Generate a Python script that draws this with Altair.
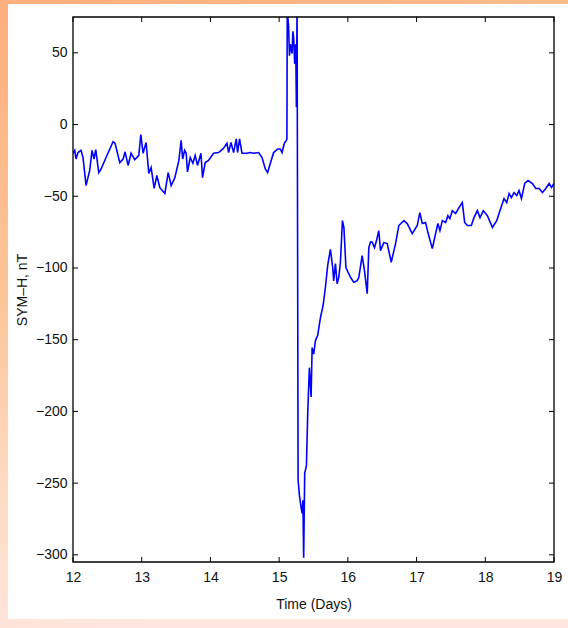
import altair as alt
import pandas as pd

# Time (days) and SYM-H (nT)
days = [
    12.000, 12.025, 12.044, 12.073, 12.117, 12.146, 12.190, 12.243, 12.277, 12.306,
    12.331, 12.375, 12.408, 12.481, 12.583, 12.612, 12.681, 12.729, 12.758, 12.802,
    12.845, 12.899, 12.958, 12.987, 13.020, 13.064, 13.103, 13.137, 13.181, 13.220,
    13.264, 13.337, 13.385, 13.429, 13.482, 13.541, 13.574, 13.596, 13.625, 13.647,
    13.666, 13.706, 13.745, 13.778, 13.812, 13.862, 13.885, 13.924, 13.972, 14.045,
    14.118, 14.182, 14.241, 14.264, 14.299, 14.337, 14.376, 14.395, 14.424, 14.459,
    14.532, 14.580, 14.628, 14.701, 14.751, 14.799, 14.832, 14.872, 14.920, 14.978,
    15.017, 15.042, 15.076, 15.105, 15.113, 15.118, 15.138, 15.150, 15.163, 15.188,
    15.200, 15.211, 15.226, 15.241, 15.251, 15.261, 15.276, 15.294, 15.319, 15.334,
    15.346, 15.357, 15.372, 15.397, 15.416, 15.440, 15.465, 15.480, 15.503, 15.528,
    15.561, 15.601, 15.640, 15.673, 15.707, 15.746, 15.780, 15.794, 15.819, 15.844,
    15.867, 15.892, 15.921, 15.943, 15.972, 16.013, 16.045, 16.086, 16.136, 16.159,
    16.208, 16.242, 16.282, 16.305, 16.329, 16.354, 16.388, 16.417, 16.450, 16.475,
    16.523, 16.573, 16.631, 16.694, 16.742, 16.815, 16.864, 16.937, 17.010, 17.048,
    17.083, 17.131, 17.165, 17.229, 17.277, 17.310, 17.340, 17.375, 17.423, 17.456,
    17.485, 17.520, 17.569, 17.617, 17.666, 17.700, 17.739, 17.797, 17.835, 17.885,
    17.923, 17.972, 18.031, 18.104, 18.166, 18.224, 18.273, 18.312, 18.346, 18.380,
    18.418, 18.458, 18.491, 18.526, 18.574, 18.622, 18.686, 18.735, 18.783, 18.832,
    18.880, 18.929, 18.964, 19.000,
]
sym_h = [
    -20, -18, -24, -19.5, -18, -23, -42.5, -32, -18, -24,
    -17.5, -33.5, -31, -23, -12, -13, -26.5, -24, -19, -28.5,
    -20, -24.5, -21.5, -7, -20, -12.5, -34, -30, -44.5, -35.5,
    -44, -48, -33.5, -42.5, -37, -25, -11, -24, -18, -20,
    -33, -23, -27, -21.5, -28.5, -20, -37, -26.5, -25, -20,
    -19.5, -17, -13, -19.5, -12.5, -19.5, -10, -19.5, -10, -20,
    -20, -19.5, -20, -19.5, -23, -31, -33.5, -27, -19.5, -17,
    -17, -19.5, -13, -11, -10, 80, 68, 48, 56, 49.5,
    65, 60.7, 42.5, 56, 12, 85, -248, -258, -267, -271,
    -262, -302, -243, -238, -201.5, -169.5, -190, -155.5, -160, -150.6,
    -147, -134.6, -126, -113.6, -98, -87, -100, -109, -97, -111,
    -106.7, -96, -67, -72, -99.7, -104, -107, -110, -108.8, -106.7,
    -91.4, -101.8, -117.9, -85.8, -82, -82, -85.8, -80.9, -74, -87.9,
    -82.3, -83, -96, -83, -70.4, -67, -69, -76, -70.4, -61.4,
    -69, -68.3, -75.3, -86.5, -76, -69, -74, -67, -68.3, -63.5,
    -65.6, -60, -62, -57.9, -54.4, -68.3, -70.4, -70.4, -64.9, -60,
    -64.9, -60, -63.5, -71.8, -67, -58.6, -51.6, -54.4, -48.1, -50.9,
    -47.4, -49.5, -46, -51.6, -41.1, -39, -41.1, -44.6, -44.6, -47.4,
    -44.6, -41.1, -43.9, -41.1,
]

x_ticks = [12, 13, 14, 15, 16, 17, 18, 19]
y_ticks = [-300, -250, -200, -150, -100, -50, 0, 50]
x_domain = [12, 19]
y_domain = [-305, 75]

W, H = 481, 545
PAD = {"left": 73, "top": 17, "right": 14, "bottom": 66}

xs = alt.Scale(domain=x_domain, nice=False, zero=False)
ys = alt.Scale(domain=y_domain, nice=False, zero=False)

x_axis = alt.Axis(values=x_ticks, format="d", title="Time (Days)", domain=False,
                  ticks=False, grid=False, labelPadding=8, titlePadding=13,
                  labelFlush=False, zindex=1)
y_axis = alt.Axis(values=y_ticks, format="d", title="SYM–H, nT", domain=False,
                  ticks=False, grid=False, labelPadding=6, titlePadding=6,
                  labelFlush=False, zindex=1)

one = pd.DataFrame({"k": [0]})

bg = alt.Chart(one).mark_rect(
    color={
        "gradient": "linear",
        "x1": 0, "y1": 0, "x2": 0.25, "y2": 1,
        "stops": [
            {"offset": 0.0, "color": "#FDAF7C"},
            {"offset": 0.45, "color": "#FCC598"},
            {"offset": 0.75, "color": "#FDDCC6"},
            {"offset": 1.0, "color": "#FDE7E0"},
        ],
    }
).encode(
    x=alt.value(-PAD["left"]), x2=alt.value(W + PAD["right"]),
    y=alt.value(-PAD["top"]), y2=alt.value(H + PAD["bottom"]),
)

panel = alt.Chart(one).mark_rect(color="#FFFFFF").encode(
    x=alt.value(8 - PAD["left"]), x2=alt.value(W + PAD["right"]),
    y=alt.value(4 - PAD["top"]), y2=alt.value(619 - PAD["top"]),
)

df = pd.DataFrame({"day": days, "symh": sym_h})
line = alt.Chart(df).mark_line(color="#0000FF", strokeWidth=1.6, clip=True).encode(
    x=alt.X("day:Q", scale=xs, axis=x_axis),
    y=alt.Y("symh:Q", scale=ys, axis=y_axis),
)

xt = pd.DataFrame({"day": x_ticks})
yt = pd.DataFrame({"symh": y_ticks})
tick_len = 5
rule = dict(color="#000000", strokeWidth=1)
bottom_ticks = alt.Chart(xt).mark_rule(**rule).encode(
    x=alt.X("day:Q", scale=xs, axis=x_axis), y=alt.value(H), y2=alt.value(H - tick_len))
top_ticks = alt.Chart(xt).mark_rule(**rule).encode(
    x=alt.X("day:Q", scale=xs, axis=x_axis), y=alt.value(0), y2=alt.value(tick_len))
left_ticks = alt.Chart(yt).mark_rule(**rule).encode(
    y=alt.Y("symh:Q", scale=ys, axis=y_axis), x=alt.value(0), x2=alt.value(tick_len))
right_ticks = alt.Chart(yt).mark_rule(**rule).encode(
    y=alt.Y("symh:Q", scale=ys, axis=y_axis), x=alt.value(W), x2=alt.value(W - tick_len))

frame = alt.Chart(one).mark_rect(fillOpacity=0, stroke="#000000", strokeWidth=1.3).encode(
    x=alt.value(0), x2=alt.value(W), y=alt.value(0), y2=alt.value(H))

chart = alt.layer(
    bg, panel, line, bottom_ticks, top_ticks, left_ticks, right_ticks, frame
).properties(
    width=W, height=H, padding=PAD, autosize=alt.AutoSizeParams(type="none"),
    background="#FFFFFF",
).configure_view(
    strokeWidth=0
).configure_axis(
    labelFont="Liberation Sans", labelFontSize=14, labelColor="#111111",
    titleFont="Liberation Sans", titleFontSize=14, titleFontWeight="normal",
    titleColor="#111111",
)

chart.save("out.html", embed_options={"renderer": "svg", "actions": False})
